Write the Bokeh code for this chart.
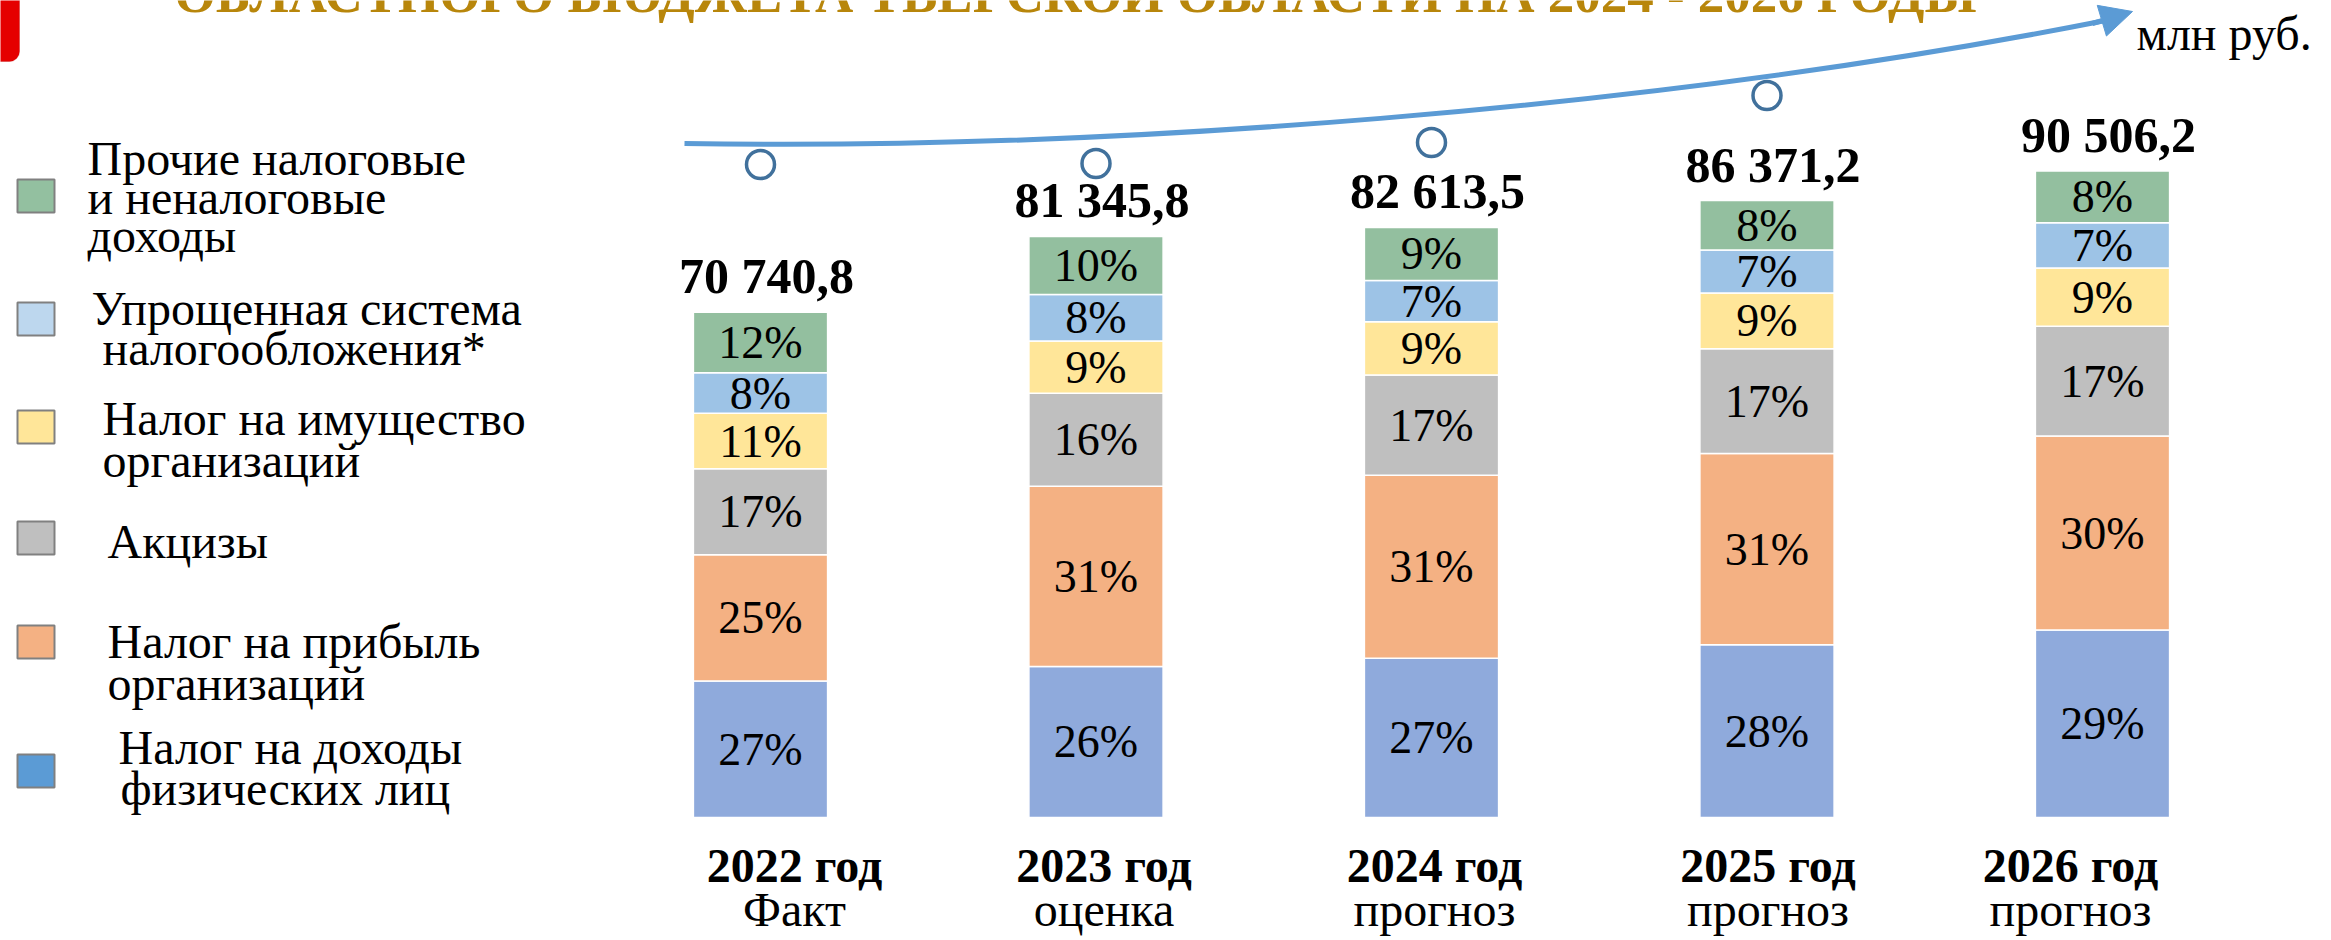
from bokeh.plotting import figure
from bokeh.models import Range1d, Arrow, NormalHead, BoxAnnotation
from bokeh.core.properties import value
from bokeh.embed import file_html
from bokeh.resources import INLINE

# ---------------- data ----------------
years = ["2022 год", "2023 год", "2024 год", "2025 год", "2026 год"]
status = ["Факт", "оценка", "прогноз", "прогноз", "прогноз"]
totals = [70740.8, 81345.8, 82613.5, 86371.2, 90506.2]
total_labels = ["70 740,8", "81 345,8", "82 613,5", "86 371,2", "90 506,2"]

# shares of each source, %, listed bottom -> top
ndfl = [27, 26, 27, 28, 29]          # Налог на доходы физических лиц
profit = [25, 31, 31, 31, 30]        # Налог на прибыль организаций
excise = [17, 16, 17, 17, 17]        # Акцизы
property_tax = [11, 9, 9, 9, 9]      # Налог на имущество организаций
usn = [8, 8, 7, 7, 7]                # Упрощенная система налогообложения
other = [12, 10, 9, 8, 8]            # Прочие налоговые и неналоговые доходы

legend_labels = [
    ["Прочие налоговые", "и неналоговые", "доходы"],
    ["Упрощенная система", " налогообложения*"],
    ["Налог на имущество", "организаций"],
    ["Акцизы"],
    ["Налог на прибыль", "организаций"],
    ["Налог на доходы", "физических лиц"],
]
title_text = "ОБЛАСТНОГО БЮДЖЕТА ТВЕРСКОЙ ОБЛАСТИ НА 2024 - 2026 ГОДЫ"
unit_text = "млн руб."

# ---------------- style / layout ----------------
bar_colors = ["#8FAADC", "#F4B183", "#BFBFBF", "#FFE699", "#9DC3E6", "#93BF9F"]
swatch_colors = ["#93C0A0", "#BDD7EE", "#FFE699", "#BFBFBF", "#F4B183", "#5B9BD5"]
FONT = value("Liberation Serif")

W, H = 2331, 940
OFF = 0                 # page offset of the canvas
PX_X = 335.5            # pixels per category step
FIRST_BAR_PX = 760      # page x of first bar centre
BASE_PY = 817           # page y of bars' baseline
MLN_PER_PX = 140.0

x_start = -(FIRST_BAR_PX - OFF) / PX_X
y_start = -(H - (BASE_PY - OFF)) * MLN_PER_PX


def X(px):
    return x_start + (px - OFF) / PX_X


def Y(py):
    return y_start + (H - (py - OFF)) * MLN_PER_PX


p = figure(width=W, height=H,
           x_range=Range1d(x_start, x_start + W / PX_X),
           y_range=Range1d(y_start, y_start + H * MLN_PER_PX),
           output_backend="svg", toolbar_location=None,
           x_axis_location=None, y_axis_location=None,
           min_border=0, outline_line_color=None,
           background_fill_color="white", border_fill_color="white")
p.grid.visible = False

idx = list(range(len(years)))

# ---------------- stacked bars ----------------
series = [ndfl, profit, excise, property_tax, usn, other]
cum = [0.0] * len(years)
for shares, color in zip(series, bar_colors):
    bottoms = cum[:]
    tops = [b + s * t / 100.0 for b, s, t in zip(bottoms, shares, totals)]
    p.vbar(x=idx, width=0.4, bottom=bottoms, top=tops,
           fill_color=color, line_color="white", line_width=1.5)
    mids = [(b + t) / 2 for b, t in zip(bottoms, tops)]
    p.text(x=idx, y=mids, text=[f"{s}%" for s in shares],
           text_align="center", text_baseline="middle",
           text_font=FONT, text_font_size="46px", text_color="black")
    cum = tops

# totals above bars
p.text(x=idx, y=totals, text=total_labels, x_offset=6, y_offset=-36,
       text_align="center", text_baseline="middle",
       text_font=FONT, text_font_size="50px", text_font_style="bold",
       text_color="black")

# category labels under bars
label_dx = [34, 8, 3, 1, -32]
p.text(x=idx, y=[0] * len(idx), text=years, x_offset=label_dx, y_offset=48,
       text_align="center", text_baseline="middle",
       text_font=FONT, text_font_size="48px", text_font_style="bold",
       text_color="black")
p.text(x=idx, y=[0] * len(idx), text=status, x_offset=label_dx, y_offset=92,
       text_align="center", text_baseline="middle",
       text_font=FONT, text_font_size="48px", text_color="black")

# ---------------- decorative growth arrow ----------------
arrow_color = "#5B9BD5"
p.bezier(x0=[X(684)], y0=[Y(143)], x1=[X(2105)], y1=[Y(20)],
         cx0=[X(1100)], cy0=[Y(150)], cx1=[X(1650)], cy1=[Y(110)],
         line_color=arrow_color, line_width=5)
p.add_layout(Arrow(end=NormalHead(size=32, fill_color=arrow_color,
                                  line_color=arrow_color),
                   x_start=X(2092), y_start=Y(23), x_end=X(2132), y_end=Y(11),
                   line_color=arrow_color, line_width=5))
marker_py = [164, 163, 142, 95]
p.scatter(x=idx[:4], y=[Y(v) for v in marker_py], marker="circle", size=28,
          fill_color=None, line_color="#41719C", line_width=3.5)

# unit label
p.text(x=[X(2136)], y=[Y(33)], text=[unit_text], text_align="left",
       text_baseline="middle", text_font=FONT, text_font_size="48px",
       text_color="black")

# cut-off slide title + red corner tab
p.text(x=[X(1075)], y=[Y(-7)], text=[title_text], text_align="center",
       text_baseline="middle", text_font=FONT, text_font_size="53px",
       text_font_style="bold", text_color="#B8860B")
p.add_layout(BoxAnnotation(left=X(-20), right=X(19), top=Y(-20), bottom=Y(61),
                           fill_color="#E50000", fill_alpha=1.0,
                           line_color="#B80000", line_width=1,
                           border_radius=10))

# ---------------- legend (left) ----------------
sw_tops = [179, 302, 410, 521, 625, 754]
p.quad(left=[X(17)] * 6, right=[X(54)] * 6,
       top=[Y(t) for t in sw_tops], bottom=[Y(t + 33) for t in sw_tops],
       fill_color=swatch_colors, line_color="#808080", line_width=2)

leg_x = [[87, 87, 87], [91, 102], [102, 102], [107], [107, 107], [118, 120]]
leg_y = [[174, 213, 251], [324, 364], [434, 476], [557], [657, 699], [763, 804]]
lx, ly, lt = [], [], []
for labs, xs, ys in zip(legend_labels, leg_x, leg_y):
    for t, xx, yy in zip(labs, xs, ys):
        lx.append(X(xx))
        ly.append(Y(yy - 16))
        lt.append(t)
p.text(x=lx, y=ly, text=lt, text_align="left", text_baseline="middle",
       text_font=FONT, text_font_size="48px", text_color="black")

open("out.html", "w").write(file_html(p, INLINE))
